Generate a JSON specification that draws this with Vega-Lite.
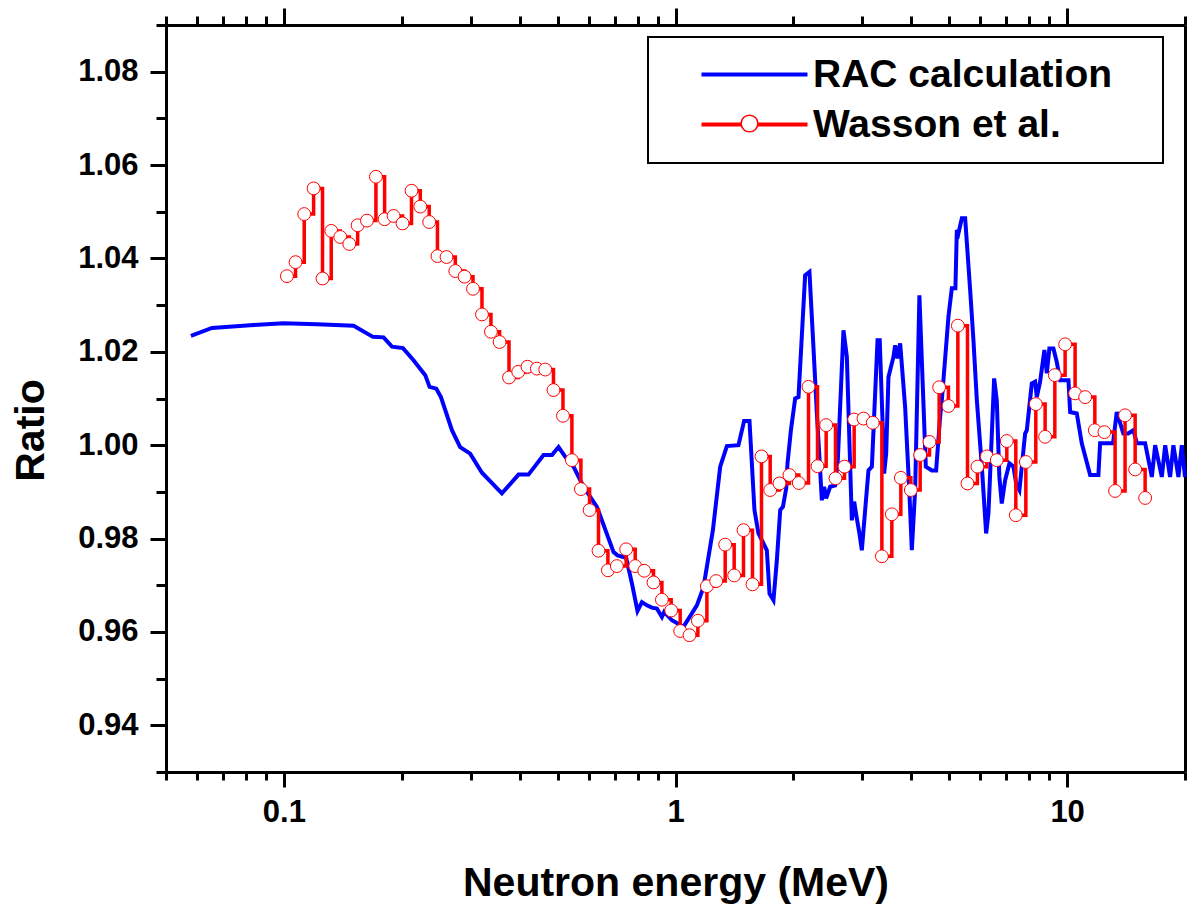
{
  "$schema": "https://vega.github.io/schema/vega-lite/v6.json",
  "width": 1019,
  "height": 747,
  "autosize": {"type": "none"},
  "padding": {"left": 166, "top": 25, "right": 3, "bottom": 133},
  "background": "white",
  "config": {
    "view": {"stroke": null},
    "font": "Liberation Sans",
    "axis": {
      "grid": false,
      "domainColor": "black",
      "domainWidth": 3,
      "tickColor": "black",
      "tickWidth": 3,
      "labelFont": "Liberation Sans",
      "labelFontWeight": "bold",
      "labelFontSize": 31,
      "labelColor": "black",
      "titleFont": "Liberation Sans",
      "titleFontWeight": "bold",
      "titleFontSize": 41,
      "titleColor": "black"
    }
  },
  "datasets": {
    "rac": [
      {"series": "RAC calculation", "E": 0.0579, "R": 1.0234},
      {"series": "RAC calculation", "E": 0.0655, "R": 1.0251},
      {"series": "RAC calculation", "E": 0.082, "R": 1.0257},
      {"series": "RAC calculation", "E": 0.0998, "R": 1.0261},
      {"series": "RAC calculation", "E": 0.1215, "R": 1.0259},
      {"series": "RAC calculation", "E": 0.1507, "R": 1.0256},
      {"series": "RAC calculation", "E": 0.1688, "R": 1.0232},
      {"series": "RAC calculation", "E": 0.1797, "R": 1.0231},
      {"series": "RAC calculation", "E": 0.1888, "R": 1.0211},
      {"series": "RAC calculation", "E": 0.2014, "R": 1.0208},
      {"series": "RAC calculation", "E": 0.2143, "R": 1.0182},
      {"series": "RAC calculation", "E": 0.2296, "R": 1.015},
      {"series": "RAC calculation", "E": 0.2355, "R": 1.0125},
      {"series": "RAC calculation", "E": 0.245, "R": 1.0121},
      {"series": "RAC calculation", "E": 0.2518, "R": 1.0103},
      {"series": "RAC calculation", "E": 0.2686, "R": 1.0032},
      {"series": "RAC calculation", "E": 0.2819, "R": 0.9996},
      {"series": "RAC calculation", "E": 0.299, "R": 0.9982},
      {"series": "RAC calculation", "E": 0.3205, "R": 0.9941},
      {"series": "RAC calculation", "E": 0.3603, "R": 0.9897},
      {"series": "RAC calculation", "E": 0.3974, "R": 0.9937},
      {"series": "RAC calculation", "E": 0.4213, "R": 0.9937},
      {"series": "RAC calculation", "E": 0.4603, "R": 0.9979},
      {"series": "RAC calculation", "E": 0.4836, "R": 0.9979},
      {"series": "RAC calculation", "E": 0.5028, "R": 0.9996},
      {"series": "RAC calculation", "E": 0.5231, "R": 0.9975},
      {"series": "RAC calculation", "E": 0.549, "R": 0.9954},
      {"series": "RAC calculation", "E": 0.5823, "R": 0.9911},
      {"series": "RAC calculation", "E": 0.63, "R": 0.9868},
      {"series": "RAC calculation", "E": 0.6947, "R": 0.9771},
      {"series": "RAC calculation", "E": 0.7112, "R": 0.9764},
      {"series": "RAC calculation", "E": 0.7482, "R": 0.9759},
      {"series": "RAC calculation", "E": 0.7739, "R": 0.9704},
      {"series": "RAC calculation", "E": 0.7998, "R": 0.9645},
      {"series": "RAC calculation", "E": 0.8209, "R": 0.9664},
      {"series": "RAC calculation", "E": 0.8452, "R": 0.9657},
      {"series": "RAC calculation", "E": 0.8703, "R": 0.9652},
      {"series": "RAC calculation", "E": 0.8964, "R": 0.965},
      {"series": "RAC calculation", "E": 0.9231, "R": 0.9632},
      {"series": "RAC calculation", "E": 0.9358, "R": 0.9643},
      {"series": "RAC calculation", "E": 0.979, "R": 0.9625},
      {"series": "RAC calculation", "E": 1.048, "R": 0.9611},
      {"series": "RAC calculation", "E": 1.134, "R": 0.9657},
      {"series": "RAC calculation", "E": 1.179, "R": 0.9696},
      {"series": "RAC calculation", "E": 1.2459, "R": 0.9818},
      {"series": "RAC calculation", "E": 1.3006, "R": 0.9954},
      {"series": "RAC calculation", "E": 1.3527, "R": 0.9998},
      {"series": "RAC calculation", "E": 1.448, "R": 1.0},
      {"series": "RAC calculation", "E": 1.497, "R": 1.0052},
      {"series": "RAC calculation", "E": 1.545, "R": 1.0052},
      {"series": "RAC calculation", "E": 1.5909, "R": 0.9861},
      {"series": "RAC calculation", "E": 1.6286, "R": 0.9811},
      {"series": "RAC calculation", "E": 1.711, "R": 0.9775},
      {"series": "RAC calculation", "E": 1.738, "R": 0.9682},
      {"series": "RAC calculation", "E": 1.779, "R": 0.9668},
      {"series": "RAC calculation", "E": 1.815, "R": 0.9754},
      {"series": "RAC calculation", "E": 1.851, "R": 0.9861},
      {"series": "RAC calculation", "E": 1.8805, "R": 0.9868},
      {"series": "RAC calculation", "E": 1.917, "R": 0.9907},
      {"series": "RAC calculation", "E": 1.932, "R": 0.9961},
      {"series": "RAC calculation", "E": 1.971, "R": 1.0032},
      {"series": "RAC calculation", "E": 2.021, "R": 1.01},
      {"series": "RAC calculation", "E": 2.061, "R": 1.0103},
      {"series": "RAC calculation", "E": 2.143, "R": 1.0364},
      {"series": "RAC calculation", "E": 2.198, "R": 1.0371},
      {"series": "RAC calculation", "E": 2.25, "R": 1.0211},
      {"series": "RAC calculation", "E": 2.296, "R": 1.0068},
      {"series": "RAC calculation", "E": 2.341, "R": 0.9946},
      {"series": "RAC calculation", "E": 2.364, "R": 0.9882},
      {"series": "RAC calculation", "E": 2.396, "R": 0.9911},
      {"series": "RAC calculation", "E": 2.425, "R": 0.9886},
      {"series": "RAC calculation", "E": 2.482, "R": 0.9911},
      {"series": "RAC calculation", "E": 2.556, "R": 0.9914},
      {"series": "RAC calculation", "E": 2.597, "R": 0.9968},
      {"series": "RAC calculation", "E": 2.685, "R": 1.0246},
      {"series": "RAC calculation", "E": 2.739, "R": 1.0189},
      {"series": "RAC calculation", "E": 2.793, "R": 0.9954},
      {"series": "RAC calculation", "E": 2.82, "R": 0.9839},
      {"series": "RAC calculation", "E": 2.859, "R": 0.9879},
      {"series": "RAC calculation", "E": 2.904, "R": 0.9843},
      {"series": "RAC calculation", "E": 2.949, "R": 0.9811},
      {"series": "RAC calculation", "E": 2.991, "R": 0.9775},
      {"series": "RAC calculation", "E": 3.05, "R": 0.9861},
      {"series": "RAC calculation", "E": 3.11, "R": 0.9946},
      {"series": "RAC calculation", "E": 3.173, "R": 0.9954},
      {"series": "RAC calculation", "E": 3.28, "R": 1.0225},
      {"series": "RAC calculation", "E": 3.323, "R": 1.0225},
      {"series": "RAC calculation", "E": 3.396, "R": 0.9996},
      {"series": "RAC calculation", "E": 3.41, "R": 0.9939},
      {"series": "RAC calculation", "E": 3.451, "R": 0.9982},
      {"series": "RAC calculation", "E": 3.498, "R": 1.0146},
      {"series": "RAC calculation", "E": 3.602, "R": 1.0189},
      {"series": "RAC calculation", "E": 3.638, "R": 1.0214},
      {"series": "RAC calculation", "E": 3.688, "R": 1.0186},
      {"series": "RAC calculation", "E": 3.747, "R": 1.0218},
      {"series": "RAC calculation", "E": 3.858, "R": 1.0082},
      {"series": "RAC calculation", "E": 3.957, "R": 0.9897},
      {"series": "RAC calculation", "E": 4.013, "R": 0.9775},
      {"series": "RAC calculation", "E": 4.092, "R": 0.9904},
      {"series": "RAC calculation", "E": 4.196, "R": 1.0321},
      {"series": "RAC calculation", "E": 4.256, "R": 1.0182},
      {"series": "RAC calculation", "E": 4.357, "R": 0.9954},
      {"series": "RAC calculation", "E": 4.514, "R": 0.9946},
      {"series": "RAC calculation", "E": 4.629, "R": 0.9946},
      {"series": "RAC calculation", "E": 4.74, "R": 1.0061},
      {"series": "RAC calculation", "E": 4.787, "R": 1.0096},
      {"series": "RAC calculation", "E": 4.977, "R": 1.0275},
      {"series": "RAC calculation", "E": 5.077, "R": 1.0336},
      {"series": "RAC calculation", "E": 5.185, "R": 1.0336},
      {"series": "RAC calculation", "E": 5.229, "R": 1.0461},
      {"series": "RAC calculation", "E": 5.279, "R": 1.0454},
      {"series": "RAC calculation", "E": 5.385, "R": 1.0486},
      {"series": "RAC calculation", "E": 5.491, "R": 1.0486},
      {"series": "RAC calculation", "E": 5.655, "R": 1.0332},
      {"series": "RAC calculation", "E": 5.765, "R": 1.0225},
      {"series": "RAC calculation", "E": 5.882, "R": 1.0096},
      {"series": "RAC calculation", "E": 6.057, "R": 0.9954},
      {"series": "RAC calculation", "E": 6.212, "R": 0.9811},
      {"series": "RAC calculation", "E": 6.297, "R": 0.9854},
      {"series": "RAC calculation", "E": 6.424, "R": 1.0025},
      {"series": "RAC calculation", "E": 6.511, "R": 1.0143},
      {"series": "RAC calculation", "E": 6.613, "R": 1.0096},
      {"series": "RAC calculation", "E": 6.714, "R": 0.9932},
      {"series": "RAC calculation", "E": 6.81, "R": 0.9875},
      {"series": "RAC calculation", "E": 6.946, "R": 0.9925},
      {"series": "RAC calculation", "E": 7.124, "R": 0.9961},
      {"series": "RAC calculation", "E": 7.294, "R": 0.9954},
      {"series": "RAC calculation", "E": 7.41, "R": 0.9918},
      {"series": "RAC calculation", "E": 7.555, "R": 0.9904},
      {"series": "RAC calculation", "E": 7.661, "R": 0.9954},
      {"series": "RAC calculation", "E": 7.812, "R": 1.0025},
      {"series": "RAC calculation", "E": 7.89, "R": 1.0032},
      {"series": "RAC calculation", "E": 8.125, "R": 1.0132},
      {"series": "RAC calculation", "E": 8.285, "R": 1.0136},
      {"series": "RAC calculation", "E": 8.368, "R": 1.0103},
      {"series": "RAC calculation", "E": 8.531, "R": 1.0136},
      {"series": "RAC calculation", "E": 8.75, "R": 1.0204},
      {"series": "RAC calculation", "E": 8.875, "R": 1.0154},
      {"series": "RAC calculation", "E": 9.01, "R": 1.0207},
      {"series": "RAC calculation", "E": 9.227, "R": 1.0207},
      {"series": "RAC calculation", "E": 9.412, "R": 1.0178},
      {"series": "RAC calculation", "E": 9.597, "R": 1.0139},
      {"series": "RAC calculation", "E": 10.08, "R": 1.0139},
      {"series": "RAC calculation", "E": 10.18, "R": 1.0071},
      {"series": "RAC calculation", "E": 10.585, "R": 1.0068},
      {"series": "RAC calculation", "E": 10.9, "R": 1.0004},
      {"series": "RAC calculation", "E": 11.45, "R": 0.9936},
      {"series": "RAC calculation", "E": 12.02, "R": 0.9936},
      {"series": "RAC calculation", "E": 12.14, "R": 1.0004},
      {"series": "RAC calculation", "E": 13.1, "R": 1.0004},
      {"series": "RAC calculation", "E": 13.39, "R": 1.0071},
      {"series": "RAC calculation", "E": 13.92, "R": 1.0025},
      {"series": "RAC calculation", "E": 14.32, "R": 1.0025},
      {"series": "RAC calculation", "E": 14.77, "R": 1.0032},
      {"series": "RAC calculation", "E": 15.07, "R": 1.0004},
      {"series": "RAC calculation", "E": 15.82, "R": 1.0004},
      {"series": "RAC calculation", "E": 16.46, "R": 0.9932},
      {"series": "RAC calculation", "E": 16.78, "R": 1.0},
      {"series": "RAC calculation", "E": 17.45, "R": 0.9932},
      {"series": "RAC calculation", "E": 17.8, "R": 1.0},
      {"series": "RAC calculation", "E": 18.32, "R": 0.9932},
      {"series": "RAC calculation", "E": 18.68, "R": 1.0},
      {"series": "RAC calculation", "E": 19.24, "R": 0.9932},
      {"series": "RAC calculation", "E": 19.63, "R": 1.0},
      {"series": "RAC calculation", "E": 20.0, "R": 0.9932}
    ],
    "wasson": [
      {"series": "Wasson et al.", "E": 0.1018, "R": 1.0362},
      {"series": "Wasson et al.", "E": 0.1071, "R": 1.0392},
      {"series": "Wasson et al.", "E": 0.1127, "R": 1.0495},
      {"series": "Wasson et al.", "E": 0.1191, "R": 1.055},
      {"series": "Wasson et al.", "E": 0.1255, "R": 1.0357},
      {"series": "Wasson et al.", "E": 0.1321, "R": 1.0459},
      {"series": "Wasson et al.", "E": 0.1393, "R": 1.0446},
      {"series": "Wasson et al.", "E": 0.1469, "R": 1.0431},
      {"series": "Wasson et al.", "E": 0.1543, "R": 1.0471},
      {"series": "Wasson et al.", "E": 0.163, "R": 1.0481},
      {"series": "Wasson et al.", "E": 0.1718, "R": 1.0575},
      {"series": "Wasson et al.", "E": 0.1808, "R": 1.0484},
      {"series": "Wasson et al.", "E": 0.1906, "R": 1.0491},
      {"series": "Wasson et al.", "E": 0.2009, "R": 1.0475},
      {"series": "Wasson et al.", "E": 0.2118, "R": 1.0545},
      {"series": "Wasson et al.", "E": 0.223, "R": 1.0511},
      {"series": "Wasson et al.", "E": 0.235, "R": 1.0478},
      {"series": "Wasson et al.", "E": 0.2467, "R": 1.0405},
      {"series": "Wasson et al.", "E": 0.2602, "R": 1.0403},
      {"series": "Wasson et al.", "E": 0.274, "R": 1.0373},
      {"series": "Wasson et al.", "E": 0.2893, "R": 1.0361},
      {"series": "Wasson et al.", "E": 0.304, "R": 1.0335},
      {"series": "Wasson et al.", "E": 0.3205, "R": 1.028},
      {"series": "Wasson et al.", "E": 0.3379, "R": 1.0243},
      {"series": "Wasson et al.", "E": 0.3555, "R": 1.0221},
      {"series": "Wasson et al.", "E": 0.3757, "R": 1.0145},
      {"series": "Wasson et al.", "E": 0.3966, "R": 1.0157},
      {"series": "Wasson et al.", "E": 0.4188, "R": 1.0168},
      {"series": "Wasson et al.", "E": 0.4425, "R": 1.0164},
      {"series": "Wasson et al.", "E": 0.4649, "R": 1.0162},
      {"series": "Wasson et al.", "E": 0.488, "R": 1.0118},
      {"series": "Wasson et al.", "E": 0.516, "R": 1.0063},
      {"series": "Wasson et al.", "E": 0.5438, "R": 0.9968},
      {"series": "Wasson et al.", "E": 0.5734, "R": 0.9906},
      {"series": "Wasson et al.", "E": 0.6034, "R": 0.9861},
      {"series": "Wasson et al.", "E": 0.6359, "R": 0.9774},
      {"series": "Wasson et al.", "E": 0.672, "R": 0.9732},
      {"series": "Wasson et al.", "E": 0.7084, "R": 0.9741},
      {"series": "Wasson et al.", "E": 0.7482, "R": 0.9777},
      {"series": "Wasson et al.", "E": 0.7891, "R": 0.9741},
      {"series": "Wasson et al.", "E": 0.8321, "R": 0.9731},
      {"series": "Wasson et al.", "E": 0.8786, "R": 0.9706},
      {"series": "Wasson et al.", "E": 0.9231, "R": 0.9669},
      {"series": "Wasson et al.", "E": 0.975, "R": 0.9646},
      {"series": "Wasson et al.", "E": 1.028, "R": 0.9602},
      {"series": "Wasson et al.", "E": 1.0856, "R": 0.9593},
      {"series": "Wasson et al.", "E": 1.1406, "R": 0.9624},
      {"series": "Wasson et al.", "E": 1.2027, "R": 0.9698},
      {"series": "Wasson et al.", "E": 1.27, "R": 0.9709},
      {"series": "Wasson et al.", "E": 1.3393, "R": 0.9787},
      {"series": "Wasson et al.", "E": 1.412, "R": 0.9721},
      {"series": "Wasson et al.", "E": 1.4916, "R": 0.9818},
      {"series": "Wasson et al.", "E": 1.5725, "R": 0.9702},
      {"series": "Wasson et al.", "E": 1.658, "R": 0.9976},
      {"series": "Wasson et al.", "E": 1.745, "R": 0.9904},
      {"series": "Wasson et al.", "E": 1.843, "R": 0.9918},
      {"series": "Wasson et al.", "E": 1.954, "R": 0.9936},
      {"series": "Wasson et al.", "E": 2.065, "R": 0.9919},
      {"series": "Wasson et al.", "E": 2.186, "R": 1.0125},
      {"series": "Wasson et al.", "E": 2.305, "R": 0.9955},
      {"series": "Wasson et al.", "E": 2.425, "R": 1.0043},
      {"series": "Wasson et al.", "E": 2.562, "R": 0.9929},
      {"series": "Wasson et al.", "E": 2.701, "R": 0.9954},
      {"series": "Wasson et al.", "E": 2.859, "R": 1.0055},
      {"series": "Wasson et al.", "E": 3.02, "R": 1.0057},
      {"series": "Wasson et al.", "E": 3.19, "R": 1.0048},
      {"series": "Wasson et al.", "E": 3.365, "R": 0.9762},
      {"series": "Wasson et al.", "E": 3.568, "R": 0.9852},
      {"series": "Wasson et al.", "E": 3.762, "R": 0.993},
      {"series": "Wasson et al.", "E": 3.99, "R": 0.9904},
      {"series": "Wasson et al.", "E": 4.215, "R": 0.9979},
      {"series": "Wasson et al.", "E": 4.452, "R": 1.0007},
      {"series": "Wasson et al.", "E": 4.712, "R": 1.0124},
      {"series": "Wasson et al.", "E": 4.977, "R": 1.0084},
      {"series": "Wasson et al.", "E": 5.26, "R": 1.0256},
      {"series": "Wasson et al.", "E": 5.567, "R": 0.9918},
      {"series": "Wasson et al.", "E": 5.902, "R": 0.9954},
      {"series": "Wasson et al.", "E": 6.237, "R": 0.9976},
      {"series": "Wasson et al.", "E": 6.613, "R": 0.9968},
      {"series": "Wasson et al.", "E": 7.015, "R": 1.0009},
      {"series": "Wasson et al.", "E": 7.396, "R": 0.985},
      {"series": "Wasson et al.", "E": 7.845, "R": 0.9964},
      {"series": "Wasson et al.", "E": 8.318, "R": 1.0088},
      {"series": "Wasson et al.", "E": 8.787, "R": 1.0018},
      {"series": "Wasson et al.", "E": 9.303, "R": 1.015},
      {"series": "Wasson et al.", "E": 9.884, "R": 1.0216},
      {"series": "Wasson et al.", "E": 10.48, "R": 1.0111},
      {"series": "Wasson et al.", "E": 11.12, "R": 1.0103},
      {"series": "Wasson et al.", "E": 11.77, "R": 1.0032},
      {"series": "Wasson et al.", "E": 12.45, "R": 1.0028},
      {"series": "Wasson et al.", "E": 13.26, "R": 0.9902},
      {"series": "Wasson et al.", "E": 14.06, "R": 1.0064},
      {"series": "Wasson et al.", "E": 14.92, "R": 0.9948},
      {"series": "Wasson et al.", "E": 15.82, "R": 0.9887}
    ]
  },
  "layer": [
    {
      "mark": {"type": "rule", "color": "black", "strokeWidth": 3},
      "encoding": {
        "y": {
          "datum": 1,
          "type": "quantitative",
          "scale": {"domain": [0.93, 1.09], "zero": false, "nice": false},
          "axis": {"orient": "right", "ticks": false, "labels": false, "title": null, "domain": true}
        }
      }
    },
    {
      "data": {"name": "rac"},
      "mark": {"type": "line", "color": "#0000ff", "strokeWidth": 4},
      "encoding": {
        "x": {
          "field": "E",
          "type": "quantitative",
          "scale": {"type": "log", "domain": [0.05, 20], "nice": false},
          "axis": {
            "orient": "bottom",
            "values": [0.05, 0.06, 0.07, 0.08, 0.09, 0.1, 0.2, 0.3, 0.4, 0.5, 0.6, 0.7, 0.8, 0.9, 1, 2, 3, 4, 5, 6, 7, 8, 9, 10, 20],
            "tickSize": {"condition": {"test": "datum.value == 0.1 || datum.value == 1 || datum.value == 10", "value": 15}, "value": 8},
            "labelExpr": "datum.value == 0.1 ? '0.1' : datum.value == 1 ? '1' : datum.value == 10 ? '10' : ''",
            "labelOverlap": false,
            "labelBound": false,
            "labelFlush": false,
            "labelPadding": 10,
            "title": "Neutron energy (MeV)",
            "titleY": 123,
            "titleBaseline": "alphabetic"
          }
        },
        "y": {
          "field": "R",
          "type": "quantitative",
          "scale": {"domain": [0.93, 1.09], "zero": false, "nice": false},
          "axis": {
            "orient": "left",
            "values": [0.93, 0.94, 0.95, 0.96, 0.97, 0.98, 0.99, 1.0, 1.01, 1.02, 1.03, 1.04, 1.05, 1.06, 1.07, 1.08, 1.09],
            "tickSize": {"condition": {"test": "round(datum.value * 100) % 2 == 0", "value": 16}, "value": 10},
            "labelExpr": "round(datum.value * 100) % 2 == 0 ? format(datum.value, '.2f') : ''",
            "labelOverlap": false,
            "labelBound": false,
            "labelFlush": false,
            "labelPadding": 12,
            "title": "Ratio",
            "titleFontSize": 41,
            "titleAngle": 270,
            "titleX": -123,
            "titleY": 405,
            "titleAlign": "center",
            "titleBaseline": "alphabetic"
          }
        },
        "color": {
          "field": "series",
          "type": "nominal",
          "scale": {"domain": ["RAC calculation", "Wasson et al."], "range": ["#0000ff", "#ff0000"]},
          "legend": {
            "orient": "none",
            "legendX": 482,
            "legendY": 12,
            "title": null,
            "padding": 18,
            "rowPadding": 10,
            "strokeColor": "black",
            "symbolType": "M1.6,0H12.2",
            "symbolSize": 400,
            "symbolStrokeWidth": 4,
            "labelFont": "Liberation Sans",
            "labelFontSize": 39,
            "labelFontWeight": "bold",
            "labelColor": "black",
            "labelLimit": 0,
            "labelOffset": 108,
            "labelExpr": "datum.label + '\u00a0\u00a0\u00a0\u200b'",
            "zindex": 1,
            "encode": {"legend": {"update": {"strokeWidth": {"value": 2}}}}
          }
        }
      }
    },
    {
      "data": {"name": "wasson"},
      "mark": {"type": "line", "interpolate": "step-after", "strokeWidth": 3.5},
      "encoding": {
        "x": {
          "field": "E",
          "type": "quantitative",
          "scale": {"type": "log", "domain": [0.05, 20], "nice": false},
          "axis": {
            "orient": "top",
            "values": [0.05, 0.06, 0.07, 0.08, 0.09, 0.1, 0.2, 0.3, 0.4, 0.5, 0.6, 0.7, 0.8, 0.9, 1, 2, 3, 4, 5, 6, 7, 8, 9, 10, 20],
            "tickSize": {"condition": {"test": "datum.value == 0.1 || datum.value == 1 || datum.value == 10", "value": 17}, "value": 9},
            "labels": false,
            "title": null
          }
        },
        "y": {
          "field": "R",
          "type": "quantitative",
          "scale": {"domain": [0.93, 1.09], "zero": false, "nice": false},
          "axis": null
        },
        "color": {
          "field": "series",
          "type": "nominal",
          "scale": {"domain": ["RAC calculation", "Wasson et al."], "range": ["#0000ff", "#ff0000"]},
          "legend": {
            "orient": "none",
            "legendX": 482,
            "legendY": 12,
            "title": null,
            "padding": 18,
            "rowPadding": 10,
            "strokeColor": "black",
            "symbolType": "M1.6,0H12.2",
            "symbolSize": 400,
            "symbolStrokeWidth": 4,
            "labelFont": "Liberation Sans",
            "labelFontSize": 39,
            "labelFontWeight": "bold",
            "labelColor": "black",
            "labelLimit": 0,
            "labelOffset": 108,
            "labelExpr": "datum.label + '\u00a0\u00a0\u00a0\u200b'",
            "zindex": 1,
            "encode": {"legend": {"update": {"strokeWidth": {"value": 2}}}}
          }
        }
      }
    },
    {
      "data": {"name": "wasson"},
      "mark": {"type": "point", "filled": true, "fill": "white", "stroke": "#ff0000", "strokeWidth": 1, "size": 165, "opacity": 1},
      "encoding": {
        "x": {
          "field": "E",
          "type": "quantitative",
          "scale": {"type": "log", "domain": [0.05, 20], "nice": false},
          "axis": null
        },
        "y": {
          "field": "R",
          "type": "quantitative",
          "scale": {"domain": [0.93, 1.09], "zero": false, "nice": false},
          "axis": null
        },
        "shape": {
          "field": "series",
          "type": "nominal",
          "scale": {"range": ["circle"]},
          "legend": {
            "orient": "none",
            "legendX": 574,
            "legendY": 89,
            "title": null,
            "padding": 0,
            "symbolSize": 280,
            "labelExpr": "''",
            "labelFontSize": 1,
            "zindex": 2,
            "encode": {
              "symbols": {
                "update": {
                  "fill": {"value": "white"},
                  "stroke": {"value": "#ff0000"},
                  "strokeWidth": {"value": 1.2},
                  "opacity": {"value": 1},
                  "fillOpacity": {"value": 1},
                  "strokeOpacity": {"value": 1}
                }
              }
            }
          }
        }
      }
    }
  ],
  "resolve": {"axis": {"x": "independent", "y": "independent"}}
}
